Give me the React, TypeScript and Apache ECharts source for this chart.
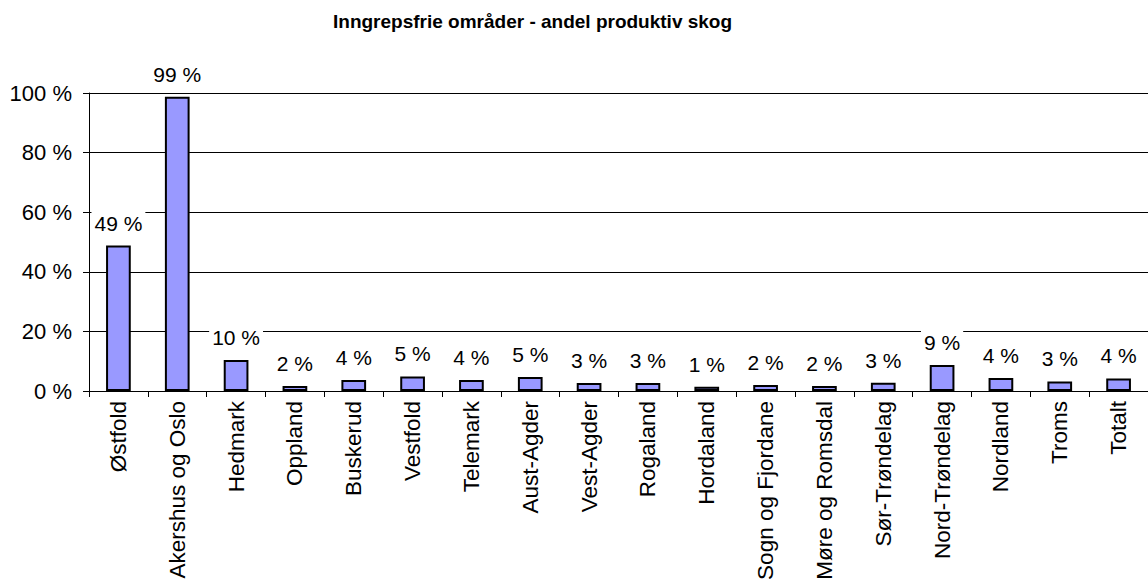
import React, { useEffect, useRef } from "react";
import * as echarts from "echarts";

const categories = [
  "Østfold", "Akershus og Oslo", "Hedmark", "Oppland", "Buskerud", "Vestfold",
  "Telemark", "Aust-Agder", "Vest-Agder", "Rogaland", "Hordaland", "Sogn og Fjordane",
  "Møre og Romsdal", "Sør-Trøndelag", "Nord-Trøndelag", "Nordland", "Troms", "Totalt",
];
const values = [48.8, 98.7, 10.4, 1.7, 3.7, 4.9, 3.7, 4.7, 2.7, 2.7, 1.4, 2.0, 1.7, 2.8, 8.7, 4.4, 3.2, 4.2];
const yTicks = [0, 20, 40, 60, 80, 100];

const FONT = "Liberation Sans, Arial, sans-serif";

export default function App() {
  const ref = useRef<HTMLDivElement>(null);
  useEffect(() => {
    document.body.style.margin = "0";
    document.body.style.overflow = "hidden";
    const chart = echarts.init(ref.current!, null, { renderer: "svg" });
    chart.setOption({
      animation: false,
      backgroundColor: "#ffffff",
      title: {
        text: "Inngrepsfrie områder - andel produktiv skog",
        left: 328,
        top: 7,
        textStyle: { fontFamily: FONT, fontSize: 19, fontWeight: "bold", color: "#000" },
      },
      grid: {
        left: 89,
        right: 0,
        top: 93,
        bottom: 189,
        containLabel: false,
        outerBoundsMode: "none",
      },
      xAxis: {
        type: "category",
        data: categories,
        axisLine: { lineStyle: { color: "#000", width: 1 } },
        axisTick: { show: true, length: 6, lineStyle: { color: "#000" } },
        axisLabel: {
          rotate: 90,
          interval: 0,
          margin: 10,
          color: "#000",
          fontSize: 22.5,
          fontFamily: FONT,
        },
      },
      yAxis: {
        type: "value",
        min: 0,
        max: 100,
        interval: 20,
        axisLine: { show: true, lineStyle: { color: "#000" } },
        axisTick: { show: true, length: 6, lineStyle: { color: "#000" } },
        splitLine: { show: true, lineStyle: { color: "#000", width: 1 } },
        axisLabel: {
          color: "#000",
          fontSize: 22,
          fontFamily: FONT,
          margin: 17,
          formatter: (v: number) => (yTicks.includes(v) ? `${v} %` : ""),
        },
      },
      series: [
        {
          type: "bar",
          data: values,
          barWidth: "42%",
          itemStyle: { color: "#9999ff", borderColor: "#000", borderWidth: 2 },
          label: {
            show: true,
            position: "top",
            distance: 11,
            color: "#000",
            fontSize: 21,
            fontFamily: FONT,
            backgroundColor: "#ffffff",
            padding: [1, 3],
            formatter: (p: any) => `${Math.round(p.value)} %`,
          },
        },
      ],
    });
    return () => chart.dispose();
  }, []);
  return (
    <div
      ref={ref}
      style={{ width: 1148, height: 580, position: "absolute", left: 0, top: 0, overflow: "hidden" }}
    />
  );
}
